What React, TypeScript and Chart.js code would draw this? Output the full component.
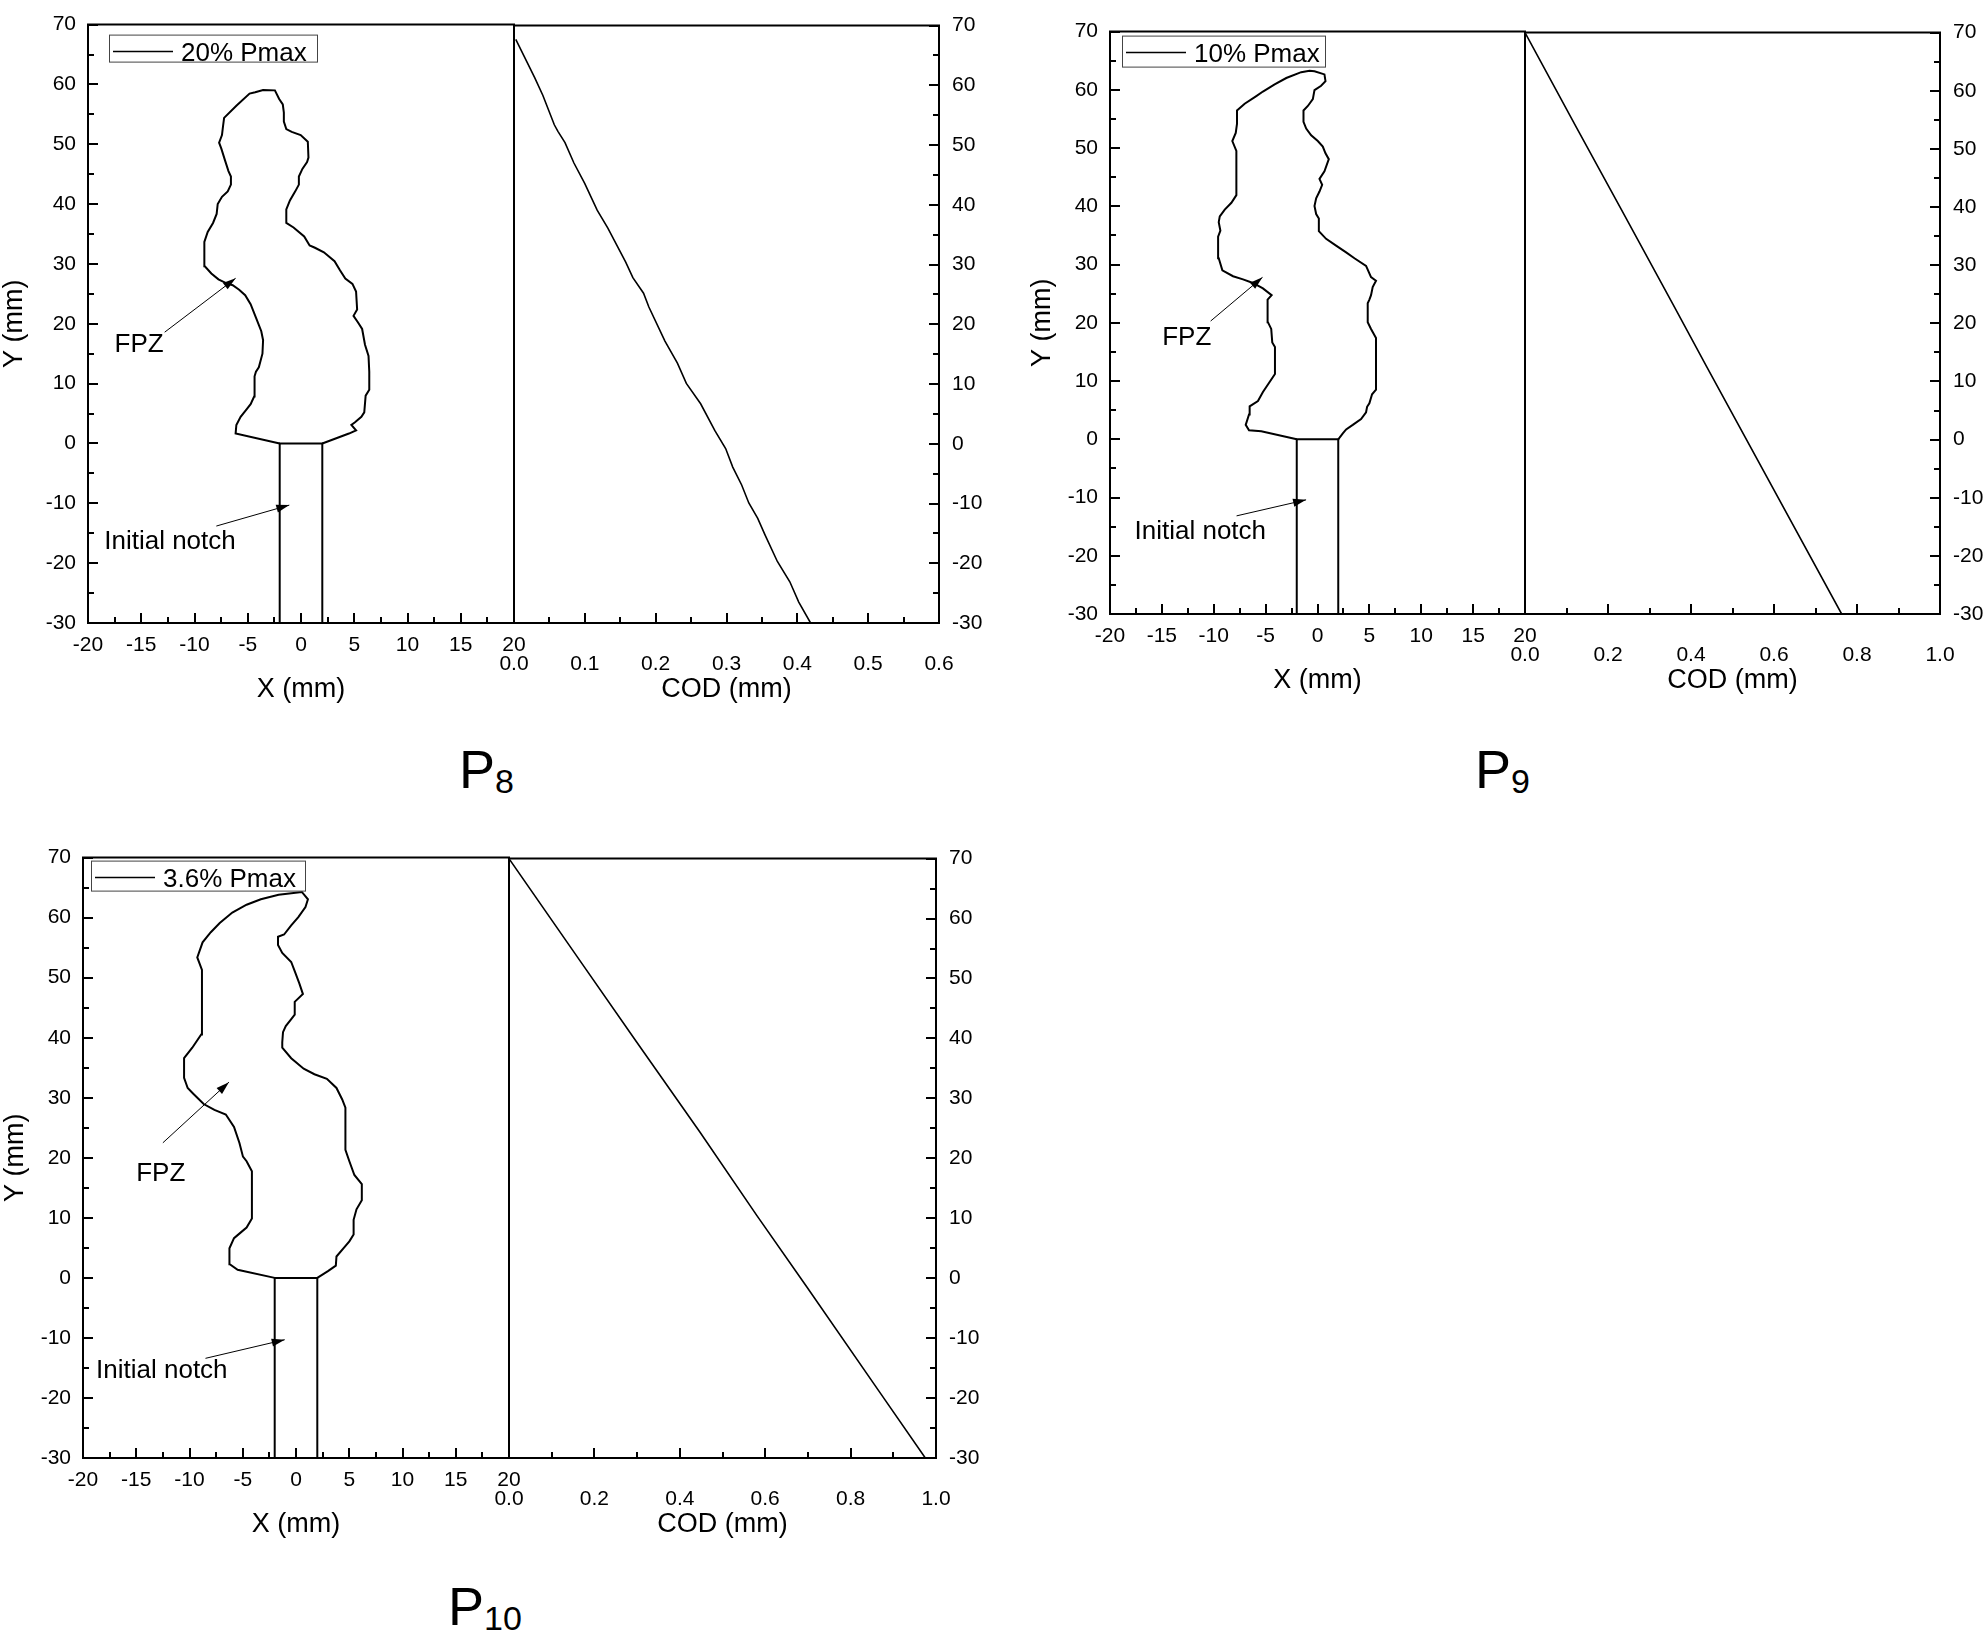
import React, { useEffect, useRef } from "react";
import { Chart, registerables } from "chart.js";

Chart.register(...registerables);

const FONT = "'Liberation Sans', Arial, Helvetica, sans-serif";

// ---------------- data ----------------
// initial notch (same in all panels), mm
const notchPts: [number, number][] = [[-2, -30], [-2, 0], [2, 0], [2, -30]];

// FPZ outlines, [X mm, Y mm]
const p8Fpz: [number, number][] = [
  [-2, 0], [-6.14, 1.66], [-6.07, 3.09], [-5.67, 4.45], [-5.13, 5.65], [-4.73, 6.56], [-4.4, 7.84],
  [-4.36, 11.23], [-4.23, 11.98], [-3.96, 12.74], [-3.62, 15.0], [-3.56, 17.26], [-3.73, 18.76],
  [-4.23, 21.03], [-4.73, 23.29], [-5.24, 24.79], [-5.81, 25.7], [-6.41, 26.45], [-7.08, 26.83],
  [-7.75, 27.43], [-8.42, 28.41], [-9.03, 29.62], [-9.09, 31.58], [-9.06, 33.69], [-8.76, 35.34],
  [-8.26, 36.85], [-7.92, 38.36], [-7.82, 40.02], [-7.42, 41.22], [-6.88, 42.13], [-6.58, 43.26],
  [-6.58, 44.61], [-6.81, 45.52], [-7.15, 47.4], [-7.48, 49.28], [-7.69, 50.27], [-7.42, 51.55],
  [-7.32, 53.05], [-7.22, 54.41], [-6.07, 56.44], [-4.83, 58.48], [-4.3, 58.71], [-3.56, 59.08],
  [-2.45, 59.01], [-2.05, 57.57], [-1.71, 56.67], [-1.61, 55.31], [-1.61, 53.81], [-1.38, 52.53],
  [-0.87, 52.07], [-0.03, 51.55], [0.64, 50.42], [0.7, 47.78], [0.57, 47.02], [0.13, 45.89],
  [-0.2, 44.61], [-0.2, 43.26], [-0.54, 42.13], [-1.04, 40.62], [-1.38, 39.11], [-1.38, 36.85],
  [-0.7, 36.1], [0.3, 34.59], [0.81, 33.08], [1.31, 32.71], [2.15, 31.95], [3.15, 30.45],
  [3.66, 28.94], [4.16, 27.58], [4.83, 26.68], [5.17, 25.4], [5.27, 22.38], [4.93, 21.33],
  [5.34, 20.27], [5.74, 19.14], [6.01, 16.5], [6.34, 14.62], [6.41, 11.98], [6.41, 8.97],
  [6.07, 7.99], [5.94, 5.2], [5.67, 4.45], [5.07, 3.54], [4.73, 3.09], [5.17, 2.19], [4.5, 1.66], [2, 0],
];

const p9Fpz: [number, number][] = [
  [-2, 0], [-5.42, 1.39], [-6.6, 1.55], [-6.92, 2.47], [-6.6, 4.25], [-6.54, 5.65], [-5.74, 6.57],
  [-5.26, 8.12], [-4.68, 9.67], [-4.1, 11.21], [-4.1, 15.85], [-4.36, 16.63], [-4.46, 18.95],
  [-4.78, 20.11], [-4.84, 23.59], [-4.78, 23.98], [-4.42, 24.75], [-5.26, 25.91], [-6.22, 26.84],
  [-7.18, 27.46], [-8.14, 28.0], [-9.17, 29.0], [-9.52, 31.09], [-9.58, 34.8], [-9.36, 35.81],
  [-9.52, 37.28], [-9.42, 38.28], [-8.94, 39.44], [-8.3, 40.6], [-7.82, 41.92], [-7.82, 49.5],
  [-8.21, 51.2], [-7.88, 52.59], [-7.76, 54.14], [-7.76, 56.46], [-7.02, 57.62], [-5.9, 58.93],
  [-5.26, 59.71], [-4.13, 60.94], [-3.01, 62.03], [-1.57, 63.03], [-0.77, 63.26], [-0.29, 63.19],
  [0.67, 62.65], [0.77, 61.48], [0.35, 60.71], [-0.29, 59.94], [-0.45, 58.39], [-0.93, 57.23],
  [-1.35, 56.46], [-1.35, 54.52], [-1.09, 53.36], [-0.61, 52.2], [0.03, 51.2], [0.51, 50.27],
  [0.77, 49.11], [1.09, 48.1], [0.67, 46.02], [0.19, 44.7], [0.45, 43.7], [0.19, 42.54],
  [-0.13, 41.38], [-0.29, 40.06], [-0.13, 38.67], [0.13, 37.9], [0.13, 35.73], [0.83, 34.42],
  [1.79, 33.26], [2.76, 32.1], [3.56, 31.09], [4.68, 29.78], [5.16, 27.84], [5.64, 27.22],
  [5.32, 26.14], [5.16, 24.75], [5.0, 23.98], [4.84, 23.36], [4.84, 20.11], [5.16, 18.95],
  [5.64, 17.4], [5.64, 8.51], [5.26, 7.73], [5.0, 6.19], [4.78, 5.57], [4.68, 4.64], [4.2, 3.48],
  [3.4, 2.47], [2.76, 1.7], [2.44, 1.01], [2, 0],
];

const p10Fpz: [number, number][] = [
  [-2, 0], [-5.48, 1.35], [-6.22, 2.27], [-6.25, 4.94], [-5.82, 6.62], [-5.15, 7.62], [-4.64, 8.38],
  [-4.14, 9.91], [-4.14, 17.75], [-4.64, 19.43], [-4.98, 20.19], [-5.31, 22.48], [-5.82, 25.15],
  [-6.59, 27.21], [-7.66, 27.97], [-8.67, 28.96], [-9.67, 30.72], [-10.17, 31.63], [-10.51, 33.31],
  [-10.51, 36.59], [-9.74, 38.34], [-8.9, 40.55], [-8.83, 51.31], [-9.27, 53.37], [-8.77, 55.89],
  [-8.0, 57.57], [-7.16, 59.09], [-5.98, 60.85], [-4.64, 62.15], [-3.3, 63.06], [-1.63, 63.82],
  [0.55, 64.28], [1.12, 63.06], [0.89, 61.77], [0.22, 60.09], [-0.45, 58.72], [-1.12, 57.19],
  [-1.69, 56.81], [-1.69, 55.43], [-1.29, 54.13], [-0.45, 52.61], [-0.12, 51.08], [0.32, 49.02],
  [0.65, 47.27], [-0.12, 45.97], [-0.12, 43.83], [-0.52, 42.92], [-0.96, 41.93], [-1.22, 40.93],
  [-1.29, 39.26], [-1.29, 38.34], [-0.45, 36.59], [0.72, 34.83], [1.73, 33.92], [2.9, 33.15],
  [3.8, 31.63], [4.34, 29.72], [4.64, 28.35], [4.64, 21.33], [5.01, 19.43], [5.48, 17.14],
  [6.18, 15.62], [6.18, 12.95], [5.68, 11.42], [5.41, 9.67], [5.41, 7.23], [5.01, 6.08],
  [4.47, 4.94], [3.8, 3.56], [3.74, 2.04], [3.0, 1.12], [2, 0],
];

// crack opening displacement profiles, [COD mm, Y mm]
const p8Cod: [number, number][] = [
  [0.0025, 67.7], [0.0292, 61.3], [0.0408, 58.3], [0.0569, 53.4], [0.062, 52.3], [0.072, 50.4],
  [0.0846, 47.0], [0.0998, 43.6], [0.1174, 39.1], [0.1325, 36.1], [0.1577, 30.4], [0.1678, 27.8],
  [0.1829, 25.2], [0.1904, 22.9], [0.2131, 17.2], [0.2307, 13.5], [0.2433, 10.1], [0.2635, 6.7],
  [0.2836, 2.2], [0.2988, -0.8], [0.3088, -3.9], [0.3214, -6.9], [0.3315, -9.9], [0.3441, -12.5],
  [0.3542, -15.2], [0.3718, -19.7], [0.3894, -23.1], [0.402, -26.5], [0.4187, -30.0],
];
const p9Cod: [number, number][] = [
  [0, 70], [0.1245, 53.6], [0.229, 40.0], [0.357, 23.2], [0.438, 12.5], [0.763, -30],
];
const p10Cod: [number, number][] = [
  [0, 70], [0.162, 53.4], [0.296, 39.7], [0.447, 24.4], [0.581, 10.4],
  [0.698, -1.5], [0.866, -18.8], [0.975, -30],
];

// axes
const yRange = [-30, 70];
const yStep = 10;
const xRange = [-20, 20];
const xStep = 5;
const codMax = [0.6, 1.0, 1.0];
const codStep = [0.1, 0.2, 0.2];

// labels
const legendTexts = ["20% Pmax", "10% Pmax", "3.6% Pmax"];
const panelSubs = ["8", "9", "10"];
const fpzLabel = "FPZ";
const notchLabel = "Initial notch";

// annotation anchors in data coordinates: text [x,y]; arrow [x1,y1,x2,y2]
const fpzTextAt = [[-15.2, 16.5], [-12.6, 17.4], [-12.7, 17.3]];
const fpzArrow = [[-12.8, 18.6, -6.14, 27.6], [-10.3, 20.3, -5.3, 27.8], [-12.5, 22.5, -6.3, 32.6]];
const notchTextAt = [[-12.3, -16.4], [-11.3, -15.85], [-12.6, -15.4]];
const notchArrow = [[-7.95, -13.8, -1.1, -10.3], [-7.8, -13.15, -1.1, -10.4], [-8.5, -13.4, -1.06, -10.3]];

const fpzData = [p8Fpz, p9Fpz, p10Fpz];
const codData = [p8Cod, p9Cod, p10Cod];

// ---------------- layout (pixels) ----------------
const layouts = [
  { L: 88, M: 514, R: 939, T: 14, B: 623, wy: 90, lg: { dx: 21, dy: 10, w: 208, h: 27 }, pl: { left: 459, top: 742 } },
  { L: 1110, M: 1525, R: 1940, T: 21, B: 614, wy: 84, lg: { dx: 12, dy: 4, w: 203, h: 31 }, pl: { left: 1475, top: 742 } },
  { L: 83, M: 509, R: 936, T: 847, B: 1458, wy: 84, lg: { dx: 8, dy: 3, w: 214, h: 30 }, pl: { left: 448, top: 1579 } },
];
const PT = 14; // top padding
const HX = 83; // x axis box height
const PADL = 25; // right padding of left half
const PADR = 60; // left padding of right half
const WYR = 46; // right y axis width

const toPts = (a: [number, number][]) => a.map(([x, y]) => ({ x, y }));

const framePlugin = {
  id: "frameTicks",
  afterDraw(chart: any, _args: any, opts: any) {
    const { ctx, chartArea: a } = chart;
    const xs = chart.scales.x;
    const ys = chart.scales.y;
    ctx.save();
    ctx.strokeStyle = "#000";
    ctx.lineWidth = 2;
    ctx.beginPath();
    ctx.rect(a.left, a.top, a.right - a.left, a.bottom - a.top);
    ctx.stroke();
    const major = 10;
    const minor = 6;
    ctx.beginPath();
    const xv = xs.ticks.map((t: any) => t.value);
    xv.forEach((v: number, i: number) => {
      const px = Math.round(xs.getPixelForValue(v));
      ctx.moveTo(px, a.bottom);
      ctx.lineTo(px, a.bottom - major);
      if (i < xv.length - 1) {
        const pm = Math.round(xs.getPixelForValue((v + xv[i + 1]) / 2));
        ctx.moveTo(pm, a.bottom);
        ctx.lineTo(pm, a.bottom - minor);
      }
    });
    const yv = ys.ticks.map((t: any) => t.value);
    const left = opts.side === "left";
    const x0 = left ? a.left : a.right;
    const dir = left ? 1 : -1;
    yv.forEach((v: number, i: number) => {
      const py = Math.round(ys.getPixelForValue(v));
      ctx.moveTo(x0, py);
      ctx.lineTo(x0 + dir * major, py);
      if (i < yv.length - 1) {
        const pm = Math.round(ys.getPixelForValue((v + yv[i + 1]) / 2));
        ctx.moveTo(x0, pm);
        ctx.lineTo(x0 + dir * minor, pm);
      }
    });
    ctx.stroke();
    ctx.restore();
  },
};

function drawArrow(ctx: CanvasRenderingContext2D, x1: number, y1: number, x2: number, y2: number) {
  ctx.beginPath();
  ctx.moveTo(x1, y1);
  ctx.lineTo(x2, y2);
  ctx.lineWidth = 1;
  ctx.stroke();
  const ang = Math.atan2(y2 - y1, x2 - x1);
  const L = 13;
  const W = 4;
  ctx.beginPath();
  ctx.moveTo(x2, y2);
  ctx.lineTo(x2 - L * Math.cos(ang) + W * Math.sin(ang), y2 - L * Math.sin(ang) - W * Math.cos(ang));
  ctx.lineTo(x2 - L * Math.cos(ang) - W * Math.sin(ang), y2 - L * Math.sin(ang) + W * Math.cos(ang));
  ctx.closePath();
  ctx.fill();
}

const annotPlugin = {
  id: "annot",
  afterDraw(chart: any, _args: any, o: any) {
    const { ctx, chartArea: a } = chart;
    const xs = chart.scales.x;
    const ys = chart.scales.y;
    const px = (v: number) => xs.getPixelForValue(v);
    const py = (v: number) => ys.getPixelForValue(v);
    ctx.save();
    ctx.fillStyle = "#000";
    ctx.strokeStyle = "#000";
    // legend box
    const lg = o.lg;
    const bx = a.left + lg.dx;
    const by = a.top + lg.dy;
    ctx.lineWidth = 1;
    ctx.strokeStyle = "#444";
    ctx.strokeRect(bx + 0.5, by + 0.5, lg.w, lg.h);
    ctx.strokeStyle = "#000";
    ctx.lineWidth = 1.5;
    ctx.beginPath();
    ctx.moveTo(bx + 4, by + 17);
    ctx.lineTo(bx + 64, by + 17);
    ctx.stroke();
    ctx.font = `26px ${FONT}`;
    ctx.textAlign = "left";
    ctx.textBaseline = "alphabetic";
    ctx.fillText(o.legendText, bx + 72, by + 26);
    // annotation texts
    ctx.textAlign = "center";
    ctx.textBaseline = "middle";
    ctx.fillText(fpzLabel, px(o.fpzText[0]), py(o.fpzText[1]));
    ctx.fillText(notchLabel, px(o.notchText[0]), py(o.notchText[1]));
    const fa = o.fpzArrow;
    drawArrow(ctx, px(fa[0]), py(fa[1]), px(fa[2]), py(fa[3]));
    const na = o.notchArrow;
    drawArrow(ctx, px(na[0]), py(na[1]), px(na[2]), py(na[3]));
    ctx.restore();
  },
};

function ChartBox({ config, left, top, width, height }: any) {
  const ref = useRef<HTMLCanvasElement>(null);
  useEffect(() => {
    const c = new Chart(ref.current as HTMLCanvasElement, config);
    return () => c.destroy();
  }, []);
  return (
    <canvas
      ref={ref}
      width={width}
      height={height}
      style={{ position: "absolute", left, top, width, height }}
    />
  );
}

const tickFont = { family: FONT, size: 21 };
const titleFont = { family: FONT, size: 27 };

function leftConfig(i: number) {
  const ly = layouts[i];
  return {
    type: "scatter",
    data: {
      datasets: [
        { data: toPts(notchPts), showLine: true, borderColor: "#000", borderWidth: 2, pointRadius: 0, fill: false },
        { data: toPts(fpzData[i]), showLine: true, borderColor: "#000", borderWidth: 2, pointRadius: 0, fill: false },
      ],
    },
    options: {
      animation: false,
      responsive: false,
      devicePixelRatio: 1,
      layout: { padding: { top: PT, right: PADL, left: 0, bottom: 0 } },
      plugins: {
        legend: { display: false },
        tooltip: { enabled: false },
        frameTicks: { side: "left" },
        annot: {
          lg: ly.lg,
          legendText: legendTexts[i],
          fpzText: fpzTextAt[i],
          fpzArrow: fpzArrow[i],
          notchText: notchTextAt[i],
          notchArrow: notchArrow[i],
        },
      },
      scales: {
        x: {
          type: "linear",
          position: "bottom",
          min: xRange[0],
          max: xRange[1],
          ticks: { stepSize: xStep, padding: 10, font: tickFont, color: "#000", autoSkip: false, maxRotation: 0 },
          grid: { display: false, drawTicks: false },
          border: { display: false },
          title: { display: true, text: "X (mm)", font: titleFont, color: "#000", padding: 0 },
          afterFit: (s: any) => { s.height = HX; },
        },
        y: {
          type: "linear",
          position: "left",
          min: yRange[0],
          max: yRange[1],
          ticks: { stepSize: yStep, padding: 12, font: tickFont, color: "#000", autoSkip: false },
          grid: { display: false, drawTicks: false },
          border: { display: false },
          title: { display: true, text: "Y (mm)", font: titleFont, color: "#000", padding: 0 },
          afterFit: (s: any) => { s.width = ly.wy; },
        },
      },
    },
    plugins: [framePlugin, annotPlugin],
  };
}

function rightConfig(i: number) {
  return {
    type: "scatter",
    data: {
      datasets: [
        { data: toPts(codData[i]), showLine: true, borderColor: "#000", borderWidth: 1.6, pointRadius: 0, fill: false },
      ],
    },
    options: {
      animation: false,
      responsive: false,
      devicePixelRatio: 1,
      layout: { padding: { top: PT, right: 0, left: PADR, bottom: 0 } },
      plugins: {
        legend: { display: false },
        tooltip: { enabled: false },
        frameTicks: { side: "right" },
      },
      scales: {
        x: {
          type: "linear",
          position: "bottom",
          min: 0,
          max: codMax[i],
          ticks: {
            stepSize: codStep[i],
            padding: 29,
            font: tickFont,
            color: "#000",
            autoSkip: false,
            maxRotation: 0,
            callback: (v: any) => Number(v).toFixed(1),
          },
          grid: { display: false, drawTicks: false },
          border: { display: false },
          title: { display: true, text: "COD (mm)", font: titleFont, color: "#000", padding: 0 },
          afterFit: (s: any) => { s.height = HX; },
        },
        y: {
          type: "linear",
          position: "right",
          min: yRange[0],
          max: yRange[1],
          ticks: { stepSize: yStep, padding: 13, font: tickFont, color: "#000", autoSkip: false },
          grid: { display: false, drawTicks: false },
          border: { display: false },
          afterFit: (s: any) => { s.width = WYR; },
        },
      },
    },
    plugins: [framePlugin],
  };
}

function Panel({ i }: { i: number }) {
  const ly = layouts[i];
  const h = PT + (ly.B - ly.T) + HX;
  const lw = ly.wy + (ly.M - ly.L) + PADL;
  const rw = PADR + (ly.R - ly.M) + WYR;
  return (
    <>
      <ChartBox config={leftConfig(i)} left={ly.L - ly.wy} top={ly.T - PT} width={lw} height={h} />
      <ChartBox config={rightConfig(i)} left={ly.M - PADR} top={ly.T - PT} width={rw} height={h} />
      <div
        style={{
          position: "absolute",
          left: ly.pl.left,
          top: ly.pl.top,
          fontFamily: FONT,
          fontSize: 54,
          lineHeight: 1,
          whiteSpace: "nowrap",
          color: "#000",
        }}
      >
        P<span style={{ fontSize: 34, position: "relative", top: 5 }}>{panelSubs[i]}</span>
      </div>
    </>
  );
}

export default function App() {
  return (
    <div
      style={{
        position: "absolute",
        left: 0,
        top: 0,
        width: 1986,
        height: 1645,
        overflow: "hidden",
        background: "#fff",
      }}
    >
      <Panel i={0} />
      <Panel i={1} />
      <Panel i={2} />
    </div>
  );
}
